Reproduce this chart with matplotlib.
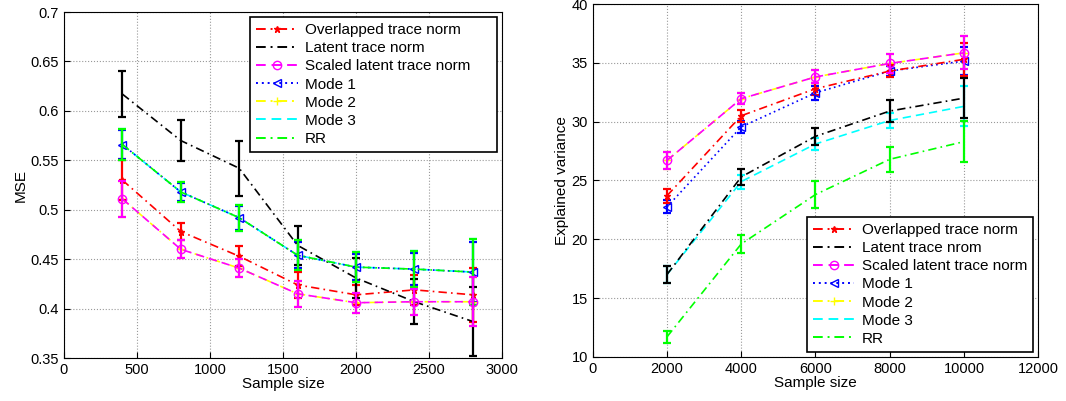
import numpy as np
import matplotlib
matplotlib.use("Agg")
import matplotlib.pyplot as plt
from matplotlib.lines import Line2D

plt.rcParams['font.family'] = ['Liberation Sans', 'DejaVu Sans']

# left panel: MSE vs sample size
n_left = [400, 800, 1200, 1600, 2000, 2400, 2800]
mse_overlap = [0.530, 0.478, 0.453, 0.424, 0.414, 0.419, 0.414]
mse_overlap_err = [0.020, 0.009, 0.010, 0.013, 0.010, 0.015, 0.027]
mse_latent = [0.617, 0.570, 0.542, 0.464, 0.431, 0.407, 0.387]
mse_latent_err = [0.023, 0.021, 0.028, 0.020, 0.020, 0.023, 0.035]
mse_scaled = [0.511, 0.460, 0.441, 0.415, 0.406, 0.407, 0.407]
mse_scaled_err = [0.018, 0.009, 0.009, 0.013, 0.010, 0.013, 0.025]
mse_mode1 = [0.566, 0.518, 0.492, 0.454, 0.442, 0.440, 0.437]
mse_mode1_err = [0.015, 0.009, 0.012, 0.013, 0.013, 0.016, 0.030]
mse_mode2 = [0.511, 0.460, 0.441, 0.415, 0.406, 0.407, 0.407]
mse_mode2_err = [0.018, 0.009, 0.009, 0.013, 0.010, 0.013, 0.025]
mse_mode3 = [0.566, 0.518, 0.492, 0.454, 0.442, 0.440, 0.437]
mse_mode3_err = [0.016, 0.010, 0.013, 0.015, 0.015, 0.018, 0.033]
mse_rr = [0.566, 0.518, 0.492, 0.454, 0.442, 0.440, 0.437]
mse_rr_err = [0.016, 0.010, 0.013, 0.015, 0.015, 0.018, 0.033]

# right panel: explained variance vs sample size
n_right = [2000, 4000, 6000, 8000, 10000]
ev_overlap = [23.7, 30.5, 32.8, 34.3, 35.3]
ev_overlap_err = [0.6, 0.5, 0.5, 0.5, 1.4]
ev_latent = [17.0, 25.3, 28.75, 30.9, 32.0]
ev_latent_err = [0.75, 0.7, 0.75, 0.95, 1.7]
ev_scaled = [26.7, 31.95, 33.8, 34.95, 35.85]
ev_scaled_err = [0.7, 0.45, 0.55, 0.8, 1.4]
ev_mode1 = [22.75, 29.55, 32.45, 34.3, 35.15]
ev_mode1_err = [0.55, 0.5, 0.6, 0.4, 1.2]
ev_mode2 = [26.7, 31.95, 33.8, 34.95, 35.85]
ev_mode2_err = [0.7, 0.45, 0.55, 0.8, 1.4]
ev_mode3 = [17.0, 24.9, 28.1, 30.1, 31.3]
ev_mode3_err = [0.7, 0.6, 0.5, 0.6, 1.7]
ev_rr = [11.7, 19.6, 23.8, 26.8, 28.3]
ev_rr_err = [0.5, 0.8, 1.15, 1.05, 1.75]

labels_left = ["Overlapped trace norm", "Latent trace norm", "Scaled latent trace norm",
               "Mode 1", "Mode 2", "Mode 3", "RR"]
labels_right = ["Overlapped trace norm", "Latent trace nrom", "Scaled latent trace norm",
                "Mode 1", "Mode 2", "Mode 3", "RR"]

# matlab-like dash patterns (in points)
DASH = (0, (5, 3))
DASHDOT = (0, (5, 2.5, 1, 2.5))
DOT = (0, (1, 2))

# (color, linestyle, marker, filled, zorder)
styles = [("#ff0000", DASHDOT, "*", True, 2.3),
          ("#000000", DASHDOT, "", True, 2.4),
          ("#ff00ff", DASH, "o", False, 2.6),
          ("#0000ff", DOT, "<", False, 2.2),
          ("#ffff00", DASHDOT, "+", True, 2.1),
          ("#00ffff", DASH, "", True, 2.0),
          ("#00ff00", DASHDOT, "", True, 2.5)]


def marker_kw(c, mk, filled):
    return dict(marker=mk or None, ms=6 if mk != "*" else 5,
                mfc=c if filled else "none", mec=c)


def draw(ax, x, series, labels):
    handles = []
    for (y, err), lab, (c, ls, mk, filled, z) in zip(series, labels, styles):
        ax.errorbar(x, y, yerr=err, color=c, ls=ls, lw=1.2, zorder=z,
                    elinewidth=1.6, capsize=3, capthick=1.6, **marker_kw(c, mk, filled))
        handles.append(Line2D([], [], color=c, ls=ls, lw=1.4, label=lab,
                              **marker_kw(c, mk, filled)))
    ax.grid(True, ls=":", color="#999999", lw=0.8)
    ax.tick_params(direction="in", labelsize=10.5, length=4)
    for s in ax.spines.values():
        s.set_linewidth(0.8)
    return handles


fig = plt.figure(figsize=(10.66, 4.01), dpi=100)
ax1 = fig.add_axes([0.060, 0.107, 0.411, 0.863])
ax2 = fig.add_axes([0.556, 0.110, 0.418, 0.880])

h1 = draw(ax1, n_left, [(mse_overlap, mse_overlap_err), (mse_latent, mse_latent_err),
                        (mse_scaled, mse_scaled_err), (mse_mode1, mse_mode1_err),
                        (mse_mode2, mse_mode2_err), (mse_mode3, mse_mode3_err),
                        (mse_rr, mse_rr_err)], labels_left)
ax1.set_xlim(0, 3000)
ax1.set_ylim(0.35, 0.7)
ax1.set_xticks([0, 500, 1000, 1500, 2000, 2500, 3000])
ax1.set_yticks([0.35, 0.4, 0.45, 0.5, 0.55, 0.6, 0.65, 0.7])
ax1.set_yticklabels(["0.35", "0.4", "0.45", "0.5", "0.55", "0.6", "0.65", "0.7"])
ax1.set_xlabel("Sample size", fontsize=11, labelpad=0)
ax1.set_ylabel("MSE", fontsize=11, labelpad=2)
leg = ax1.legend(handles=h1, loc="upper left", bbox_to_anchor=(0.425, 0.0, 0.5635, 0.9855),
                 mode="expand", fontsize=11, handlelength=2.7, fancybox=False,
                 framealpha=1, edgecolor="black", borderaxespad=0,
                 labelspacing=0.27, borderpad=0.4, handletextpad=0.5)
leg.get_frame().set_linewidth(1.2)
leg.set_zorder(5)

h2 = draw(ax2, n_right, [(ev_overlap, ev_overlap_err), (ev_latent, ev_latent_err),
                         (ev_scaled, ev_scaled_err), (ev_mode1, ev_mode1_err),
                         (ev_mode2, ev_mode2_err), (ev_mode3, ev_mode3_err),
                         (ev_rr, ev_rr_err)], labels_right)
ax2.set_xlim(0, 12000)
ax2.set_ylim(10, 40)
ax2.set_xticks([0, 2000, 4000, 6000, 8000, 10000, 12000])
ax2.set_yticks([10, 15, 20, 25, 30, 35, 40])
ax2.set_xlabel("Sample size", fontsize=11, labelpad=0)
ax2.set_ylabel("Explained variance", fontsize=11, labelpad=2)
leg = ax2.legend(handles=h2, loc="lower left", bbox_to_anchor=(0.481, 0.014, 0.508, 0.5),
                 mode="expand", fontsize=11, handlelength=2.7, fancybox=False,
                 framealpha=1, edgecolor="black", borderaxespad=0,
                 labelspacing=0.27, borderpad=0.4, handletextpad=0.5)
leg.get_frame().set_linewidth(1.2)
leg.set_zorder(5)

fig.savefig("out.png", dpi=100)
